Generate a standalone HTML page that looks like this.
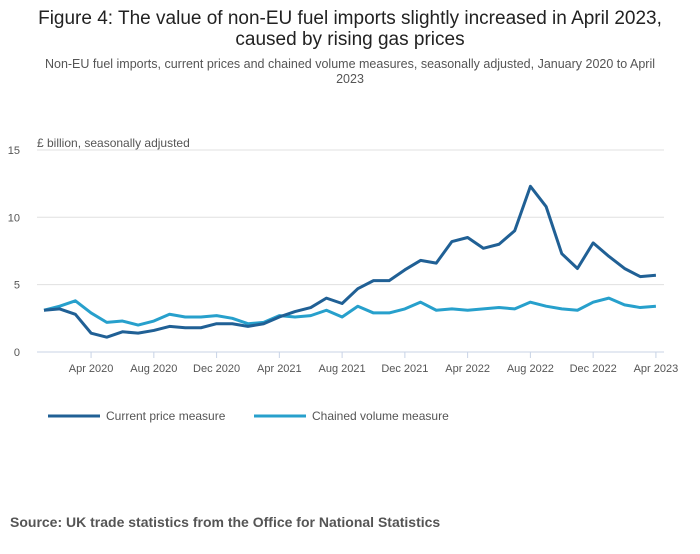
<!DOCTYPE html>
<html><head><meta charset="utf-8"><style>
body{margin:0;background:#fff;font-family:"Liberation Sans",sans-serif;}
</style></head><body>
<svg id="chart" width="700" height="549" xmlns="http://www.w3.org/2000/svg" font-family="Liberation Sans, sans-serif">
<text x="350" y="24" text-anchor="middle" font-size="19" fill="#222">Figure 4: The value of non-EU fuel imports slightly increased in April 2023,</text>
<text x="350" y="45" text-anchor="middle" font-size="19" fill="#222">caused by rising gas prices</text>
<text x="350" y="68" text-anchor="middle" font-size="12.5" fill="#555">Non-EU fuel imports, current prices and chained volume measures, seasonally adjusted, January 2020 to April</text>
<text x="350" y="83" text-anchor="middle" font-size="12.5" fill="#555">2023</text>
<text x="37" y="147" font-size="12" fill="#555">£ billion, seasonally adjusted</text>
<g id="grid"></g><g id="xaxis"></g><g id="lines"></g>
<g>
<line x1="48" y1="416" x2="100" y2="416" stroke="#206095" stroke-width="3"/>
<text x="106" y="420" font-size="12" fill="#555">Current price measure</text>
<line x1="254" y1="416" x2="306" y2="416" stroke="#27a0cc" stroke-width="3"/>
<text x="312" y="420" font-size="12" fill="#555">Chained volume measure</text>
</g>
<text x="10" y="527" font-size="14" font-weight="bold" fill="#555">Source: UK trade statistics from the Office for National Statistics</text>
</svg>
<script>
const currentPrice=[3.1,3.2,2.8,1.4,1.1,1.5,1.4,1.6,1.9,1.8,1.8,2.1,2.1,1.9,2.1,2.6,3.0,3.3,4.0,3.6,4.7,5.3,5.3,6.1,6.8,6.6,8.2,8.5,7.7,8.0,9.0,12.3,10.8,7.3,6.2,8.1,7.1,6.2,5.6,5.7];
const chainedVolume=[3.1,3.4,3.8,2.9,2.2,2.3,2.0,2.3,2.8,2.6,2.6,2.7,2.5,2.1,2.2,2.7,2.6,2.7,3.1,2.6,3.4,2.9,2.9,3.2,3.7,3.1,3.2,3.1,3.2,3.3,3.2,3.7,3.4,3.2,3.1,3.7,4.0,3.5,3.3,3.4];
const yTicks=[0,5,10,15];
const xTickIdx=[3,7,11,15,19,23,27,31,35,39];
const xTickLabels=["Apr 2020","Aug 2020","Dec 2020","Apr 2021","Aug 2021","Dec 2021","Apr 2022","Aug 2022","Dec 2022","Apr 2023"];
const NS="http://www.w3.org/2000/svg";
const x=i=>44+i*15.69;
const y=v=>352-v*13.47;
function mk(tag,attrs,parent){const e=document.createElementNS(NS,tag);for(const k in attrs)e.setAttribute(k,attrs[k]);parent.appendChild(e);return e;}
const grid=document.getElementById('grid');
yTicks.forEach(t=>{
  const l=mk('line',{x1:37,x2:664,y1:y(t),y2:y(t),stroke:t===0?'#c8d3e6':'#e0e0e0','stroke-width':1},grid);
  
  
  const tx=mk('text',{x:20,y:y(t)+4,'text-anchor':'end','font-size':11,fill:'#555'},grid);
  tx.textContent=t;
  
  
});
const xa=document.getElementById('xaxis');
xTickIdx.forEach((idx,k)=>{
  const l=mk('line',{x1:x(idx),x2:x(idx),y1:352,y2:358,stroke:'#c8d3e6'},xa);
  
  
  const tx=mk('text',{x:x(idx),y:372,'text-anchor':'middle','font-size':11,fill:'#555'},xa);
  tx.textContent=xTickLabels[k];
  
  
});
const lines=document.getElementById('lines');
const p1=mk('polyline',{points:chainedVolume.map((v,i)=>x(i)+','+y(v)).join(' '),fill:'none',stroke:'#27a0cc','stroke-width':3,'stroke-linejoin':'round'},lines);


const p2=mk('polyline',{points:currentPrice.map((v,i)=>x(i)+','+y(v)).join(' '),fill:'none',stroke:'#206095','stroke-width':3,'stroke-linejoin':'round'},lines);


</script>
</body></html>
